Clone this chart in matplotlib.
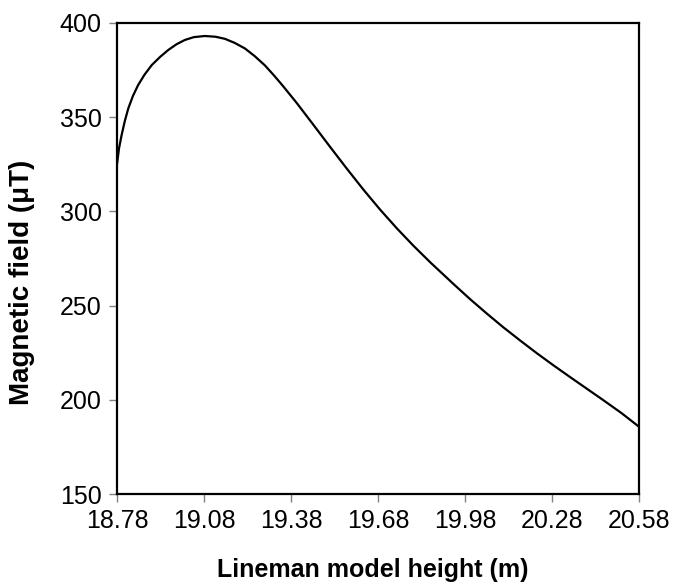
import numpy as np
import matplotlib
matplotlib.use('Agg')
import matplotlib.pyplot as plt

plt.rcParams['font.family'] = ['Liberation Sans', 'DejaVu Sans']

# Lineman model height (m) and magnetic field (uT)
height = [18.78, 18.787, 18.796, 18.807, 18.819, 18.835, 18.853, 18.875, 18.90,
          18.93, 18.957, 18.985, 19.014, 19.045, 19.083, 19.12, 19.152, 19.185,
          19.221, 19.255, 19.29, 19.32, 19.35, 19.40, 19.457, 19.515, 19.572,
          19.63, 19.687, 19.745, 19.802, 19.86, 19.94, 19.997, 20.055, 20.112,
          20.17, 20.227, 20.285, 20.342, 20.40, 20.457, 20.52, 20.58]
field = [325.0, 333.5, 340.6, 348.0, 354.7, 361.3, 367.1, 372.6, 377.7,
         382.2, 385.7, 388.7, 391.0, 392.5, 393.1, 392.7, 391.6, 389.5,
         386.5, 382.4, 377.5, 372.4, 367.0, 357.5, 346.0, 334.2, 322.8,
         311.5, 301.0, 291.0, 281.8, 273.0, 261.5, 253.5, 245.8, 238.5,
         231.5, 224.8, 218.3, 212.1, 205.9, 199.8, 192.9, 185.7]

xticks = [18.78, 19.08, 19.38, 19.68, 19.98, 20.28, 20.58]
yticks = [150, 200, 250, 300, 350, 400]

fig = plt.figure(figsize=(6.73, 5.84), dpi=100)
ax = fig.add_axes([117 / 673, 1 - 494 / 584, (639 - 117) / 673, (494 - 23) / 584])

ax.plot(height, field, color='black', linewidth=1.6, solid_joinstyle='round')

ax.set_xlim(18.78, 20.58)
ax.set_ylim(150, 400)
ax.set_xticks(xticks)
ax.set_xticklabels([f'{t:.2f}' for t in xticks])
ax.set_yticks(yticks)

for s in ax.spines.values():
    s.set_linewidth(1.6)
    s.set_color('black')

ax.tick_params(direction='out', length=6, width=1, color='#808080',
               labelsize=18, pad=5)

ax.set_xlabel('Lineman model height (m)', fontsize=18, fontweight='bold')
ax.set_ylabel('Magnetic field (\u03bcT)', fontsize=20, fontweight='bold')
ax.xaxis.set_label_coords(0.49, -0.135)
ax.yaxis.set_label_coords(-0.157, 0.449)

fig.savefig('out.png', dpi=100)
